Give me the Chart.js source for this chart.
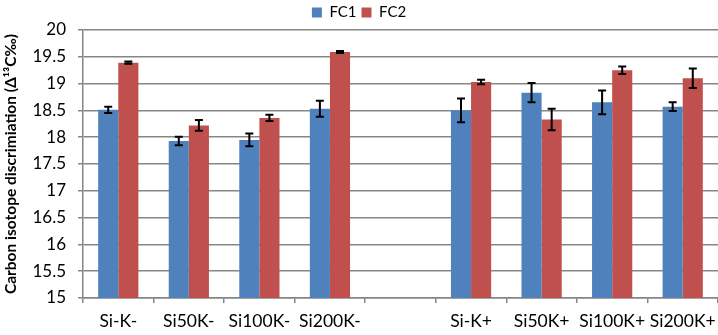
<!DOCTYPE html>
<html>
<head>
<meta charset="utf-8">
<script src="https://cdn.jsdelivr.net/npm/chart.js@4/dist/chart.umd.min.js"></script>
<style>
  html, body { margin: 0; padding: 0; background: #fff; }
  #wrap { width: 718px; height: 335px; }
</style>
</head>
<body>
<div id="wrap"><canvas id="chart-carbon"></canvas></div>
<script>
var categories = ['Si-K-', 'Si50K-', 'Si100K-', 'Si200K-', '', 'Si-K+', 'Si50K+', 'Si100K+', 'Si200K+'];
var fc1Values = [18.51, 17.93, 17.95, 18.53, null, 18.50, 18.83, 18.65, 18.57];
var fc1Errors = [0.06, 0.08, 0.12, 0.15, null, 0.22, 0.18, 0.22, 0.08];
var fc2Values = [19.39, 18.22, 18.36, 19.59, null, 19.03, 18.33, 19.25, 19.10];
var fc2Errors = [0.02, 0.10, 0.06, 0.02, null, 0.04, 0.20, 0.07, 0.18];
var yTicks = [15, 15.5, 16, 16.5, 17, 17.5, 18, 18.5, 19, 19.5, 20];

// error bars drawn from the dataset values through the y scale
var errorBarPlugin = {
  id: 'errorBars',
  afterDatasetsDraw: function (chart) {
    var ctx = chart.ctx;
    var yScale = chart.scales.y;
    ctx.save();
    ctx.strokeStyle = '#000';
    ctx.lineWidth = 2;
    chart.data.datasets.forEach(function (ds, di) {
      var meta = chart.getDatasetMeta(di);
      ds.data.forEach(function (v, i) {
        var err = ds.errors[i];
        if (v === null || err === null) return;
        var x = meta.data[i].x;
        var top = yScale.getPixelForValue(v + err);
        var bottom = yScale.getPixelForValue(v - err);
        ctx.beginPath();
        ctx.moveTo(x, top); ctx.lineTo(x, bottom);
        ctx.moveTo(x - 4, top); ctx.lineTo(x + 4, top);
        ctx.moveTo(x - 4, bottom); ctx.lineTo(x + 4, bottom);
        ctx.stroke();
      });
    });
    ctx.restore();
  }
};

var chartContext = document.getElementById('chart-carbon');
var chart = new Chart(chartContext, {
  type: 'bar',
  data: {
    labels: categories,
    datasets: [
      { label: 'FC1', data: fc1Values, errors: fc1Errors, backgroundColor: '#4F81BD' },
      { label: 'FC2', data: fc2Values, errors: fc2Errors, backgroundColor: '#C0504D' }
    ]
  },
  options: {
    responsive: true,
    maintainAspectRatio: false,
    animation: false,
    layout: { padding: 0 },
    datasets: { bar: { barPercentage: 1, categoryPercentage: 0.57 } },
    plugins: {
      tooltip: { enabled: false },
      legend: {
        display: true,
        position: 'top',
        labels: {
          boxWidth: 10,
          boxHeight: 10,
          padding: 5,
          color: '#000',
          font: { family: 'Lato', size: 15 }
        }
      }
    },
    scales: {
      x: {
        offset: true,
        afterFit: function (scale) {
          scale.height = 37;
          scale.paddingRight = 0;
          scale.paddingLeft = 0;
        },
        grid: { display: true, drawOnChartArea: false, offset: true, tickLength: 5, color: '#868686', lineWidth: 1.5 },
        border: { color: '#868686', width: 1.5 },
        ticks: { color: '#000', maxRotation: 0, autoSkip: false, padding: 8, font: { family: 'Lato', size: 17.5 } }
      },
      y: {
        min: 15,
        max: 20,
        afterBuildTicks: function (scale) {
          scale.ticks = yTicks.map(function (v) { return { value: v }; });
        },
        afterFit: function (scale) { scale.width = 83; },
        grid: { color: '#868686', lineWidth: 1.5, tickLength: 5 },
        border: { color: '#868686', width: 1.5 },
        ticks: {
          color: '#000',
          padding: 12,
          font: { family: 'Lato', size: 17 },
          callback: function (v) { return String(v); }
        },
        title: {
          display: true,
          text: 'Carbon isotope discrimiation (\u0394\u00b9\u00b3C\u2030)',
          color: '#000',
          padding: { top: 2, bottom: 0 },
          font: { family: 'Lato', size: 15.5, weight: 'bold' }
        }
      }
    }
  },
  plugins: [errorBarPlugin]
});
</script>
</body>
</html>
